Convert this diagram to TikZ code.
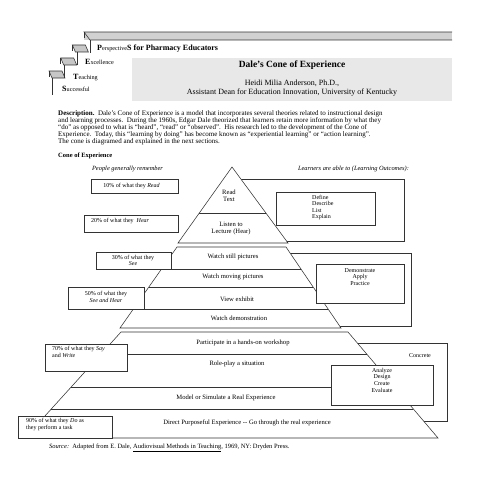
\documentclass[tikz,border=0pt]{standalone}
\usepackage{fontspec}
\setmainfont{Liberation Serif}
\begin{document}
\begin{tikzpicture}[x=1pt,y=-1pt,
  ln/.style={line width=0.55pt, draw=black!80},
  box/.style={ln, fill=white, inner sep=0pt},
  lbl/.style={font=\fontsize{6.6}{7}\selectfont, inner sep=0pt},
  sml/.style={font=\fontsize{6}{6.6}\selectfont, inner sep=0pt},
  hd/.style={font=\fontsize{6.4}{7}\selectfont\itshape, inner sep=0pt},
  tread/.style={ln, fill=black!22},
]
\useasboundingbox (0,0) rectangle (495,495);

% ---------- header staircase ----------
\fill[black!18] (84,32) rectangle (452,40);
\draw[ln] (452,32) -- (84,32) -- (90,40) -- (452,40);
\draw[ln] (84,32) -- (84,38);
\draw[ln] (90,40) -- (90,53);
\foreach \k in {0,1,2}{
  \pgfmathsetmacro{\L}{49+11.7*\k}
  \pgfmathsetmacro{\T}{71-13*\k}
  \draw[tread] (\L,\T) -- ({\L+13},\T) -- ({\L+16},{\T+7}) -- ({\L+3},{\T+7}) -- cycle;
  \draw[ln] (\L,\T) -- (\L,{\T+6});
}
\draw[ln] (77.4,52) -- (77.4,65);
\draw[ln] (64.7,65) -- (64.7,78);
\draw[ln] (52,78) -- (52,95);
\node[anchor=base west, inner sep=0pt] (hP) at (97,51) {\fontsize{8}{9}\selectfont\bfseries P\fontsize{6.2}{7}\selectfont\mdseries erspective\fontsize{8}{9}\selectfont\bfseries S for Pharmacy Educators};
\node[anchor=base west, inner sep=0pt] (hE) at (85,65) {\fontsize{8}{9}\selectfont\bfseries E\fontsize{6.2}{7}\selectfont\mdseries xcellence};
\node[anchor=base west, inner sep=0pt] (hT) at (73,79) {\fontsize{8}{9}\selectfont\bfseries T\fontsize{6.2}{7}\selectfont\mdseries eaching};
\node[anchor=base west, inner sep=0pt] (hS) at (62,92) {\fontsize{8}{9}\selectfont\bfseries S\fontsize{6.2}{7}\selectfont\mdseries uccessful};

% ---------- title box ----------
\node[fill=black!9, minimum width=320pt, minimum height=43pt, inner sep=0pt] (title) at (292,79.5) {};
\node[font=\fontsize{9.5}{10}\selectfont\bfseries, inner sep=0pt] (t1) at (292,65) {Dale’s Cone of Experience};
\node[font=\fontsize{8}{9}\selectfont, inner sep=0pt, align=center] (t2) at (292,88.5) {Heidi Milia Anderson, Ph.D.,\\Assistant Dean for Education Innovation, University of Kentucky};

% ---------- description ----------
\node[anchor=north west, inner sep=0pt, align=left, font=\fontsize{7}{7}\selectfont] (desc) at (58,110.5) {%
\textbf{Description.}\ \ Dale’s Cone of Experience is a model that incorporates several theories related to instructional design\\
and learning processes.\ \ During the 1960s, Edgar Dale theorized that learners retain more information by what they\\
“do” as opposed to what is “heard”, “read” or “observed”.\ \ His research led to the development of the Cone of\\
Experience.\ \ Today, this “learning by doing” has become known as “experiential learning” or “action learning”.\\
The cone is diagramed and explained in the next sections.};
\node[anchor=west, inner sep=0pt, font=\fontsize{6.5}{7}\selectfont\bfseries] (cone) at (58,156) {Cone of Experience};

\node[hd] (hl) at (127.5,169) {People generally remember};
\node[hd] (hr) at (353.5,169) {Learners are able to (Learning Outcomes):};

% ---------- outer frames (behind pyramid) ----------
\draw[ln] (232,179) rectangle (404,241);
\draw[ln] (230,253) rectangle (411,326);
\draw[ln] (240,343) rectangle (447,421);

% ---------- pyramid ----------
\draw[ln, fill=white] (232,167) -- (288,243) -- (178,243) -- cycle;
\draw[ln] (199.3,213) -- (266,213);
\draw[ln, fill=white] (177,247) -- (286,247) -- (341,328) -- (120,328) -- cycle;
\draw[ln] (161.5,269) -- (300.9,269);
\draw[ln] (148.9,287) -- (313.2,287);
\draw[ln] (133.4,309) -- (328.1,309);
\draw[ln, fill=white] (121,332) -- (348,332) -- (438,438) -- (25,438) -- cycle;
\draw[ln] (101,354) -- (366.7,354);
\draw[ln] (71.2,387) -- (394.7,387);
\draw[ln] (51.3,409) -- (413.4,409);

% pyramid labels
\node[lbl, align=center] (p1) at (229,195.5) {Read\\Text};
\node[lbl, align=center] (p2) at (231,228.5) {Listen to\\Lecture (Hear)};
\node[lbl] (p3) at (233,257) {Watch still pictures};
\node[lbl] (p4) at (233,277) {Watch moving pictures};
\node[lbl] (p5) at (237,299) {View exhibit};
\node[lbl] (p6) at (239,318) {Watch demonstration};
\node[lbl] (p7) at (243,343) {Participate in a hands-on workshop};
\node[lbl] (p8) at (237,364) {Role-play a situation};
\node[lbl] (p9) at (226,398) {Model or Simulate a Real Experience};
\node[lbl] (p10) at (247,423) {Direct Purposeful Experience {-}{-} Go through the real experience};

% ---------- left boxes ----------
\node[box, minimum width=87pt, minimum height=14pt] (b10) at (134.5,186) {};
\node[sml] (b10t) at (131.5,186) {10\% of what they \textit{Read}};
\node[box, minimum width=94pt, minimum height=17pt] (b20) at (131,223.5) {};
\node[sml, anchor=west] (b20t) at (91,221) {20\% of what they\ \ \textit{Hear}};
\node[box, minimum width=75pt, minimum height=17pt] (b30) at (133.5,260.5) {};
\node[sml, align=center] (b30t) at (133,260.5) {30\% of what they\\\textit{See}};
\node[box, minimum width=76pt, minimum height=22pt] (b50) at (106,298) {};
\node[sml, align=center] (b50t) at (106,297) {50\% of what they\\\textit{See and Hear}};
\node[box, minimum width=82pt, minimum height=27pt] (b70) at (86,357.5) {};
\node[sml, align=left, anchor=north west] (b70t) at (52,346) {70\% of what they \textit{Say}\\and \textit{Write}};
\node[box, minimum width=94pt, minimum height=22pt] (b90) at (65,427) {};
\node[sml, align=left, anchor=north west] (b90t) at (26,418) {90\% of what they \textit{Do} as\\they perform a task};

% ---------- right boxes ----------
\node[box, minimum width=99pt, minimum height=33pt] (bdef) at (325.5,208.5) {};
\node[sml, align=left, anchor=north west, font=\fontsize{6}{6.4}\selectfont] (bdeft) at (312,195) {Define\\Describe\\List\\Explain};
\node[box, minimum width=88pt, minimum height=39pt] (bdem) at (360,283.5) {};
\node[sml, align=center, anchor=north, font=\fontsize{6}{6.6}\selectfont] (bdemt) at (360,268) {Demonstrate\\Apply\\Practice};
\node[box, minimum width=102pt, minimum height=40pt] (bana) at (382,385) {};
\node[sml, align=center, anchor=north, font=\fontsize{6}{6.6}\selectfont] (banat) at (382,368) {Analyze\\Design\\Create\\Evaluate};
\node[sml] (conc) at (420,356) {Concrete};

% ---------- source ----------
\node[anchor=west, inner sep=0pt, font=\fontsize{6.5}{7}\selectfont] (src) at (49,448) {\textit{Source:}\ \ Adapted from E. Dale, \underline{Audiovisual Methods in Teaching}, 1969, NY: Dryden Press.};
\end{tikzpicture}
\end{document}
